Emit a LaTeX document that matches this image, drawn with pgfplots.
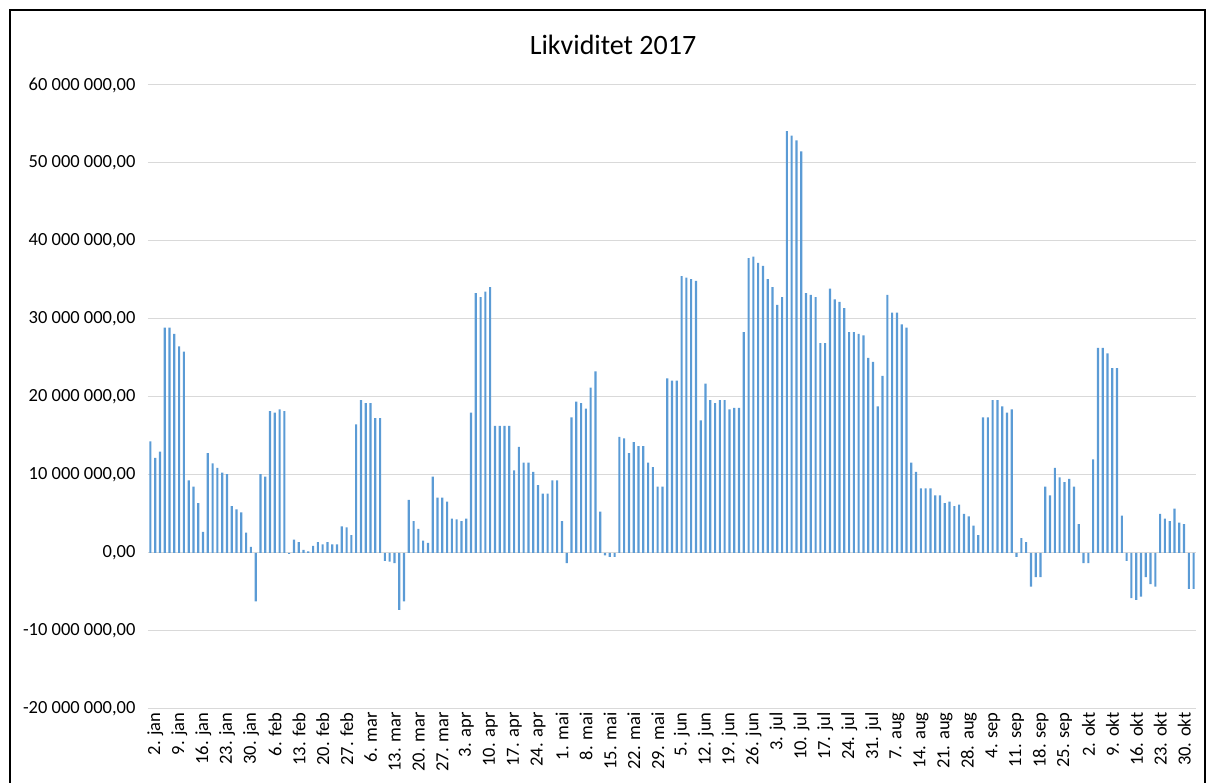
\documentclass[border=0pt]{standalone}
\usepackage{pgfplots}
\pgfplotsset{compat=1.18}
\usepackage{fontspec}
\setmainfont{Carlito}
\definecolor{barblue}{HTML}{5B9BD5}
\definecolor{gridgray}{HTML}{D9D9D9}
\begin{document}
\begin{tikzpicture}
\useasboundingbox (0,0) rectangle (1208pt,783pt);
\draw[black, line width=1.5pt] (10pt,-20pt) -- (10pt,773pt) -- (1205pt,773pt) -- (1205pt,-20pt);
\node[font=\fontsize{28}{34}\selectfont, anchor=center] at (613pt,738pt) {Likviditet 2017};
\begin{axis}[
  at={(148pt,74pt)}, anchor=south west,
  width=1048pt, height=624pt, scale only axis,
  xmin=-0.5, xmax=218.5, ymin=-20, ymax=60,
  axis line style={draw=none},
  tick style={draw=none},
  major tick length=0pt,
  ytick={-20,-10,0,10,20,30,40,50,60},
  yticklabels={{-20 000 000,00},{-10 000 000,00},{0,00},{10 000 000,00},{20 000 000,00},{30 000 000,00},{40 000 000,00},{50 000 000,00},{60 000 000,00}},
  ymajorgrids,
  grid style={draw=gridgray, line width=1pt},
  xtick={0,5,...,215},
  xticklabels={2. jan,9. jan,16. jan,23. jan,30. jan,6. feb,13. feb,20. feb,27. feb,6. mar,13. mar,20. mar,27. mar,3. apr,10. apr,17. apr,24. apr,1. mai,8. mai,15. mai,22. mai,29. mai,5. jun,12. jun,19. jun,26. jun,3. jul,10. jul,17. jul,24. jul,31. jul,7. aug,14. aug,21. aug,28. aug,4. sep,11. sep,18. sep,25. sep,2. okt,9. okt,16. okt,23. okt,30. okt},
  xticklabel style={rotate=90, anchor=east, font=\fontsize{18.5}{22}\selectfont, yshift=-5pt},
  yticklabel style={font=\fontsize{18.5}{22}\selectfont, xshift=-9pt},
  ybar, bar width=0.45,
]
\addplot[fill=barblue, draw=none] coordinates {
(0,14.3) (1,12.2) (2,13.0) (3,28.9) (4,28.9) (5,28.1) (6,26.5) (7,25.8) (8,9.3) (9,8.5)
(10,6.4) (11,2.7) (12,12.8) (13,11.5) (14,10.9) (15,10.3) (16,10.1) (17,6.0) (18,5.6) (19,5.2)
(20,2.6) (21,0.8) (22,-6.2) (23,10.1) (24,9.8) (25,18.2) (26,18.0) (27,18.4) (28,18.2) (29,-0.1)
(30,1.7) (31,1.4) (32,0.4) (33,0.2) (34,0.9) (35,1.4) (36,1.1) (37,1.4) (38,1.1) (39,1.1)
(40,3.4) (41,3.3) (42,2.3) (43,16.5) (44,19.6) (45,19.2) (46,19.2) (47,17.3) (48,17.3) (49,-1.0)
(50,-1.1) (51,-1.3) (52,-7.3) (53,-6.2) (54,6.8) (55,4.1) (56,3.1) (57,1.6) (58,1.3) (59,9.8)
(60,7.1) (61,7.1) (62,6.6) (63,4.4) (64,4.3) (65,4.1) (66,4.4) (67,18.0) (68,33.3) (69,32.8)
(70,33.5) (71,34.1) (72,16.3) (73,16.3) (74,16.3) (75,16.3) (76,10.6) (77,13.6) (78,11.6) (79,11.6)
(80,10.4) (81,8.7) (82,7.6) (83,7.6) (84,9.3) (85,9.3) (86,4.1) (87,-1.3) (88,17.4) (89,19.4)
(90,19.2) (91,18.5) (92,21.2) (93,23.3) (94,5.3) (95,-0.3) (96,-0.5) (97,-0.5) (98,14.9) (99,14.7)
(100,12.8) (101,14.2) (102,13.7) (103,13.7) (104,11.6) (105,11.0) (106,8.5) (107,8.5) (108,22.4) (109,22.1)
(110,22.1) (111,35.5) (112,35.3) (113,35.1) (114,34.9) (115,17.0) (116,21.7) (117,19.6) (118,19.2) (119,19.6)
(120,19.6) (121,18.4) (122,18.6) (123,18.6) (124,28.3) (125,37.8) (126,38.0) (127,37.2) (128,36.8) (129,35.1)
(130,34.1) (131,31.8) (132,32.8) (133,54.1) (134,53.5) (135,52.9) (136,51.5) (137,33.3) (138,33.1) (139,32.8)
(140,26.9) (141,26.9) (142,33.9) (143,32.5) (144,32.2) (145,31.4) (146,28.3) (147,28.3) (148,28.1) (149,27.9)
(150,25.0) (151,24.5) (152,18.8) (153,22.7) (154,33.1) (155,30.8) (156,30.8) (157,29.3) (158,28.9) (159,11.6)
(160,10.4) (161,8.3) (162,8.3) (163,8.3) (164,7.4) (165,7.4) (166,6.4) (167,6.6) (168,6.0) (169,6.2)
(170,5.0) (171,4.7) (172,3.5) (173,2.3) (174,17.4) (175,17.4) (176,19.6) (177,19.6) (178,18.8) (179,18.0)
(180,18.4) (181,-0.5) (182,1.9) (183,1.4) (184,-4.3) (185,-3.1) (186,-3.1) (187,8.5) (188,7.4) (189,10.9)
(190,9.7) (191,9.1) (192,9.5) (193,8.5) (194,3.7) (195,-1.3) (196,-1.3) (197,12.0) (198,26.3) (199,26.3)
(200,25.6) (201,23.7) (202,23.7) (203,4.8) (204,-1.0) (205,-5.8) (206,-6.0) (207,-5.6) (208,-3.1) (209,-4.0)
(210,-4.3) (211,5.0) (212,4.4) (213,4.1) (214,5.7) (215,3.9) (216,3.7) (217,-4.6) (218,-4.6)
};
\end{axis}
\end{tikzpicture}
\end{document}
